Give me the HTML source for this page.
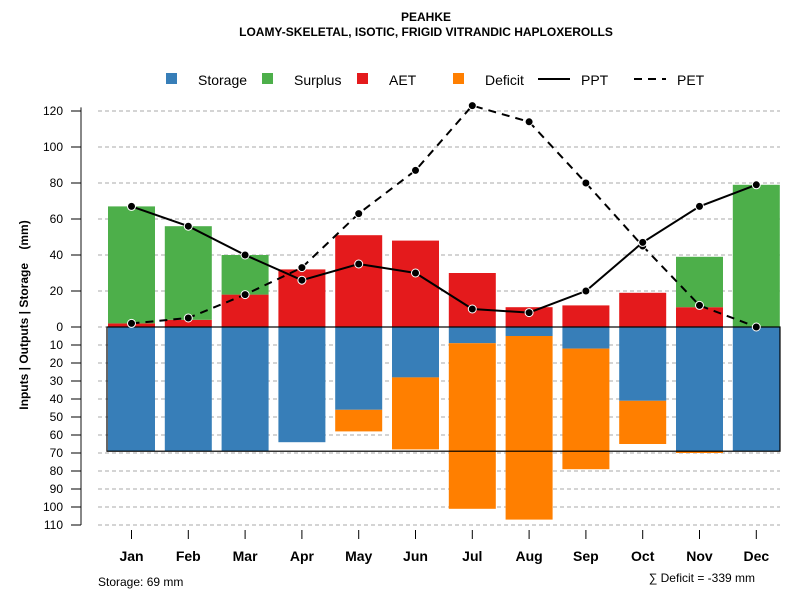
<!DOCTYPE html>
<html><head><meta charset="utf-8"><style>
body{margin:0;background:#fff}
svg text{font-family:"Liberation Sans",sans-serif}
</style></head><body>
<svg id="c" width="800" height="600" xmlns="http://www.w3.org/2000/svg">
<text x="426" y="21" text-anchor="middle" font-size="12" font-weight="bold">PEAHKE</text>
<text x="426" y="36" text-anchor="middle" font-size="12" font-weight="bold">LOAMY-SKELETAL, ISOTIC, FRIGID VITRANDIC HAPLOXEROLLS</text>
<g id="legend">
<g><rect x="166" y="73" width="11" height="11" fill="#377EB8"/><text x="198" y="85" font-size="14">Storage</text></g>
<g><rect x="262" y="73" width="11" height="11" fill="#4DAF4A"/><text x="294" y="85" font-size="14">Surplus</text></g>
<g><rect x="357" y="73" width="11" height="11" fill="#E41A1C"/><text x="389" y="85" font-size="14">AET</text></g>
<g><rect x="453" y="73" width="11" height="11" fill="#FF7F00"/><text x="485" y="85" font-size="14">Deficit</text></g>
<g><line x1="538" y1="79" x2="570" y2="79" stroke="#000" stroke-width="2"/><text x="581" y="85" font-size="14">PPT</text></g>
<g><line x1="634" y1="79" x2="666" y2="79" stroke="#000" stroke-width="2" stroke-dasharray="8,6"/><text x="677" y="85" font-size="14">PET</text></g>
</g>
<text transform="translate(28,315) rotate(-90)" text-anchor="middle" font-size="12" font-weight="bold" xml:space="preserve" style="white-space:pre">Inputs | Outputs | Storage    (mm)</text>
<text x="98" y="586" font-size="12">Storage: 69 mm</text>
<text x="755" y="582" text-anchor="end" font-size="12">∑ Deficit = -339 mm</text>
</svg>
<script>
const months=["Jan","Feb","Mar","Apr","May","Jun","Jul","Aug","Sep","Oct","Nov","Dec"];
const storage=[69,69,69,64,46,28,9,5,12,41,69,69];
const deficit=[0,0,0,0,12,40,92,102,67,24,1,0];
const aet=[2,4,18,32,51,48,30,11,12,19,11,0];
const surplus=[65,52,22,0,0,0,0,0,0,0,28,79];
const ppt=[67,56,40,26,35,30,10,8,20,47,67,79];
const pet=[2,5,18,33,63,87,123,114,80,45,12,0];
const upTicks=[0,20,40,60,80,100,120];
const downTicks=[10,20,30,40,50,60,70,80,90,100,110];
const capacity=69;
const NS="http://www.w3.org/2000/svg",svg=document.getElementById('c');
const y0=327,k=1.8;
const yUp=v=>y0-v*k, yDn=v=>y0+v*k;
const xC=i=>131.5+i*56.8, bw=47;
function el(t,a,p){const e=document.createElementNS(NS,t);for(const n in a)e.setAttribute(n,a[n]);(p||svg).appendChild(e);return e;}
const grid=el('g',{});


const ax=el('g',{});


el('line',{x1:81,y1:yUp(122),x2:81,y2:yDn(110),stroke:'#888','stroke-width':2},ax);
function tick(y,lab){
 el('line',{x1:98,y1:y,x2:780,y2:y,stroke:'#aaa','stroke-dasharray':'4,3'},grid);
 el('line',{x1:71,y1:y,x2:81,y2:y,stroke:'#000'},ax);
 const t=el('text',{x:63,y:y+4,'text-anchor':'end','font-size':12},ax);t.textContent=lab;
}
upTicks.forEach(v=>tick(yUp(v),v));
downTicks.forEach(v=>tick(yDn(v),v));
const bars=el('g',{});


months.forEach((m,i)=>{
 const x=xC(i)-bw/2;
 let r=el('rect',{x:x,y:y0,width:bw,height:storage[i]*k,fill:'#377EB8'},bars);
 
 
 r=el('rect',{x:x,y:yDn(storage[i]),width:bw,height:deficit[i]*k,fill:'#FF7F00'},bars);
 
 
 r=el('rect',{x:x,y:yUp(aet[i]),width:bw,height:aet[i]*k,fill:'#E41A1C'},bars);
 
 
 r=el('rect',{x:x,y:yUp(aet[i]+surplus[i]),width:bw,height:surplus[i]*k,fill:'#4DAF4A'},bars);
 
 
 el('line',{x1:xC(i),y1:yDn(110)+5,x2:xC(i),y2:yDn(110)+14,stroke:'#000'},ax);
 const t=el('text',{x:xC(i),y:yDn(110)+36,'text-anchor':'middle','font-size':14,'font-weight':'bold'});
 t.textContent=m;
 
 
});
const box=el('rect',{x:107,y:y0,width:673,height:capacity*k,fill:'none',stroke:'#000','stroke-width':1.2});


function series(vals,dash,name){
 const g=el('g',{});
 
 
 el('polyline',{points:vals.map((v,i)=>xC(i)+','+yUp(v)).join(' '),fill:'none',stroke:'#000','stroke-width':2,'stroke-dasharray':dash},g);
 vals.forEach((v,i)=>el('circle',{cx:xC(i),cy:yUp(v),r:4,fill:'#000',stroke:'#fff','stroke-width':1},g));
}
series(pet,'8,6','line-pet');
series(ppt,'none','line-ppt');
</script>
</body></html>
